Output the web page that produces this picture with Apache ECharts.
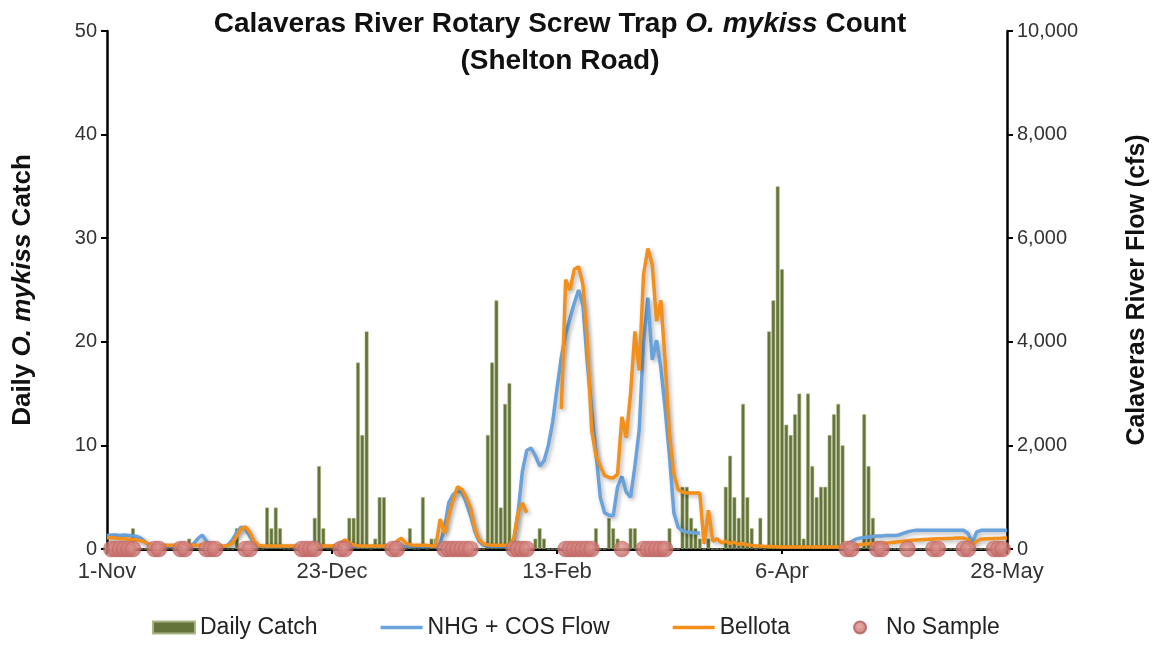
<!DOCTYPE html>
<html>
<head>
<meta charset="utf-8">
<script src="https://cdn.jsdelivr.net/npm/echarts@6/dist/echarts.min.js"></script>
<style>
  html, body { margin: 0; padding: 0; background: #fff; }
  #chart { width: 1158px; height: 645px; }
</style>
</head>
<body>
<div id="chart"></div>
<script>
// x axis is day number counted from 1-Nov (0) to 28-May (208)
const tickLabels = ['1-Nov', '23-Dec', '13-Feb', '6-Apr', '28-May'];

// daily O. mykiss catch, one value per day
const catchCounts = [
  0, 0, 0, 0, 0, 0, 2, 0, 0, 0,
  0, 0, 0, 0, 0, 0, 0, 0, 0, 1,
  0, 0, 0, 0, 0, 0, 0, 0, 0, 0,
  2, 0, 0, 0, 0, 0, 0, 4, 2, 4,
  2, 0, 0, 0, 0, 0, 0, 0, 3, 8,
  2, 0, 0, 0, 0, 0, 3, 3, 18, 11,
  21, 0, 1, 5, 5, 0, 0, 0, 0, 0,
  2, 0, 0, 5, 0, 1, 1, 0, 0, 0,
  0, 0, 0, 0, 0, 0, 0, 0, 11, 18,
  24, 4, 14, 16, 0, 0, 0, 0, 0, 1,
  2, 1, 0, 0, 0, 0, 0, 0, 0, 0,
  0, 0, 0, 2, 0, 0, 3, 2, 1, 0,
  0, 2, 2, 0, 0, 0, 0, 0, 0, 0,
  2, 0, 0, 6, 6, 3, 2, 1, 0, 1,
  0, 0, 0, 6, 9, 5, 3, 14, 5, 2,
  0, 3, 0, 21, 24, 35, 27, 12, 11, 13,
  15, 1, 15, 8, 5, 6, 6, 11, 13, 14,
  10, 0, 0, 0, 0, 13, 8, 3, 0, 0,
  0, 0, 0, 0, 0, 0, 0, 0, 0, 0,
  0, 0, 0, 0, 0, 0, 0, 0, 0, 0,
  0, 0, 0, 0, 0, 0, 0, 0, 0
];

// NHG + COS flow (cfs)
const nhgFlow = [
  260, 270, 270, 260, 270, 260, 250, 240, 200, 120,
  80, 60, 50, 50, 50, 50, 50, 50, 50, 60,
  100, 200, 270, 150, 80, 60, 50, 50, 80, 180,
  320, 420, 400, 250, 100, 60, 50, 50, 50, 50,
  50, 50, 50, 50, 50, 50, 50, 50, 50, 50,
  50, 50, 50, 50, 50, 60, 60, 50, 50, 50,
  50, 50, 50, 50, 50, 50, 50, 60, 60, 50,
  50, 50, 50, 50, 50, 50, 50, 100, 400, 900,
  1050, 1120, 1100, 900, 650, 350, 150, 80, 60, 50,
  50, 50, 50, 50, 150, 700, 1500, 1900, 1950, 1800,
  1600, 1700, 2000, 2450, 3100, 3700, 4150, 4450, 4750, 5000,
  4700, 3600, 2700, 1850, 1000, 700, 650, 640, 1200, 1400,
  1100, 1000, 1600, 2300, 4000, 4850, 3650, 4030, 3500, 2700,
  1800, 700, 420, 350, 330, 320, 310, 310, null, null,
  null, null, null, null, null, null, null, null, null, null,
  null, null, null, null, null, null, null, null, null, null,
  null, null, null, null, null, null, null, null, null, null,
  null, 100, 140, 190, 210, 220, 230, 240, 250, 250,
  260, 260, 260, 270, 300, 330, 350, 360, 360, 360,
  360, 360, 360, 360, 360, 360, 360, 360, 360, 300,
  120, 330, 360, 360, 360, 360, 360, 360, 360
];

// Bellota flow (cfs)
const bellotaFlow = [
  210, 220, 210, 200, 200, 190, 180, 170, 160, 120,
  80, 70, 70, 70, 70, 70, 70, 70, 70, 70,
  70, 70, 80, 80, 70, 60, 60, 60, 70, 120,
  250, 380, 430, 320, 150, 70, 60, 60, 60, 60,
  60, 60, 60, 60, 60, 60, 60, 60, 60, 60,
  60, 60, 60, 70, 120, 175, 120, 80, 60, 60,
  60, 60, 60, 60, 60, 60, 80, 150, 210, 120,
  80, 70, 70, 70, 70, 60, 60, 580, 300, 650,
  950, 1200, 1150, 1000, 800, 400, 180, 100, 80, 70,
  70, 70, 70, 80, 200, 700, 890, 700, null, null,
  null, null, null, null, null, 2700, 5200, 5000, 5400, 5450,
  5100, 4000, 2300, 1800, 1600, 1420, 1380, 1370, 1450, 2550,
  2150, 3000, 4200, 3450, 5300, 5800, 5500, 4400, 4800, 3600,
  2200, 1450, 1150, 1100, 1080, 1080, 1080, 1080, 100, 750,
  150, 200, 120, 150, 110, 130, 90, 100, 80, 70,
  60, 60, 50, 50, 45, 45, 40, 40, 40, 40,
  40, 40, 40, 40, 40, 40, 40, 40, 40, 40,
  40, 50, 60, 70, 80, 90, 100, 100, 105, 110,
  110, 120, 130, 140, 150, 160, 170, 175, 180, 185,
  190, 195, 200, 200, 205, 205, 210, 210, 210, 180,
  80, 150, 190, 200, 200, 205, 205, 210, 210
];

// days with no trap sample
const noSampleDays = [
  1, 2, 3, 4, 5, 6, 11, 12, 17, 18, 23, 24, 25, 32, 33,
  45, 46, 47, 48, 54, 55, 66, 67, 78, 79, 80, 81, 82, 83, 84,
  94, 95, 96, 97, 106, 107, 108, 109, 110, 111, 112, 119,
  124, 125, 126, 127, 128, 129, 171, 172, 178, 179, 185,
  191, 192, 198, 199, 205, 206, 207
];

const FONT = "'Liberation Sans', Arial, sans-serif";

var myChart = echarts.init(document.getElementById('chart'));

const pairs = (arr) => arr.map((v, i) => [i, v]);

// flat bar used as the legend icon of the two flow lines
const lineIcon = 'path://M0,0 L42,0 L42,3.5 L0,3.5 Z';

option = {
  animation: false,
  textStyle: { fontFamily: FONT },
  title: {
    left: 555,
    textAlign: 'center',
    top: 5,
    itemGap: 9,
    text: '{n|Calaveras River Rotary Screw Trap }{i|O. mykiss}{n| Count}',
    textStyle: {
      rich: {
        n: { fontFamily: FONT, fontSize: 28, fontWeight: 'bold', color: '#111' },
        i: { fontFamily: FONT, fontSize: 28, fontWeight: 'bold', fontStyle: 'italic', color: '#111' }
      }
    },
    subtext: '(Shelton Road)',
    subtextStyle: { fontFamily: FONT, fontSize: 28, fontWeight: 'bold', color: '#111' }
  },
  grid: {
    left: 107,
    right: 150,
    top: 31,
    bottom: 96
  },
  legend: {
    bottom: 1,
    left: 147,
    itemGap: 63,
    itemWidth: 42,
    itemHeight: 12,
    textStyle: { fontFamily: FONT, fontSize: 23, color: '#222' },
    data: [
      { name: 'Daily Catch', icon: 'rect' },
      { name: 'NHG + COS Flow', icon: lineIcon },
      { name: 'Bellota', icon: lineIcon },
      { name: 'No Sample', icon: 'circle' }
    ]
  },
  xAxis: {
    type: 'value',
    min: 0,
    max: 208,
    interval: 52,
    splitLine: { show: false },
    axisLine: { show: true, onZero: false, lineStyle: { color: '#000', width: 3 } },
    axisTick: { show: true, length: 5, lineStyle: { color: '#000', width: 2 } },
    axisLabel: {
      color: '#333',
      fontFamily: FONT,
      fontSize: 22,
      margin: 12,
      formatter: function (value) {
        return tickLabels[Math.round(value / 52)];
      }
    }
  },
  yAxis: [
    {
      type: 'value',
      min: 0,
      max: 50,
      interval: 10,
      position: 'left',
      name: '{n|Daily }{i|O. mykiss}{n| Catch}',
      nameLocation: 'middle',
      nameGap: 71,
      nameTextStyle: {
        rich: {
          n: { fontFamily: FONT, fontSize: 26, fontWeight: 'bold', color: '#111' },
          i: { fontFamily: FONT, fontSize: 26, fontWeight: 'bold', fontStyle: 'italic', color: '#111' }
        }
      },
      splitLine: { show: false },
      axisLine: { show: true, lineStyle: { color: '#000', width: 2.5 } },
      axisTick: { show: true, length: 6, lineStyle: { color: '#000', width: 2 } },
      axisLabel: { color: '#333', fontFamily: FONT, fontSize: 20, margin: 10 }
    },
    {
      type: 'value',
      min: 0,
      max: 10000,
      interval: 2000,
      position: 'right',
      name: 'Calaveras River Flow (cfs)',
      nameLocation: 'middle',
      nameGap: 118,
      nameTextStyle: { fontFamily: FONT, fontSize: 25, fontWeight: 'bold', color: '#111' },
      splitLine: { show: false },
      axisLine: { show: true, lineStyle: { color: '#000', width: 2.5 } },
      axisTick: { show: true, length: 6, lineStyle: { color: '#000', width: 2 } },
      axisLabel: {
        color: '#333',
        fontFamily: FONT,
        fontSize: 20,
        margin: 10,
        formatter: function (value) {
          return value.toLocaleString('en-US');
        }
      }
    }
  ],
  series: [
    {
      name: 'Daily Catch',
      type: 'bar',
      yAxisIndex: 0,
      barWidth: 3.8,
      data: pairs(catchCounts),
      itemStyle: {
        color: '#637339',
        borderColor: '#a9b585',
        borderWidth: 0.6
      }
    },
    {
      name: 'NHG + COS Flow',
      type: 'line',
      yAxisIndex: 1,
      symbol: 'none',
      connectNulls: false,
      data: pairs(nhgFlow),
      itemStyle: { color: '#6aa3dc' },
      lineStyle: {
        color: '#6aa3dc',
        width: 3.5,
        shadowColor: 'rgba(0, 0, 0, 0.3)',
        shadowBlur: 4,
        shadowOffsetX: 2,
        shadowOffsetY: 2
      }
    },
    {
      name: 'Bellota',
      type: 'line',
      yAxisIndex: 1,
      symbol: 'none',
      connectNulls: false,
      data: pairs(bellotaFlow),
      itemStyle: { color: '#f3901c' },
      lineStyle: {
        color: '#f3901c',
        width: 3.5,
        shadowColor: 'rgba(0, 0, 0, 0.3)',
        shadowBlur: 4,
        shadowOffsetX: 2,
        shadowOffsetY: 2
      }
    },
    {
      name: 'No Sample',
      type: 'scatter',
      yAxisIndex: 0,
      symbol: 'circle',
      symbolSize: 16,
      clip: false,
      z: 5,
      data: noSampleDays.map(d => [d, 0]),
      itemStyle: {
        color: new echarts.graphic.RadialGradient(0.45, 0.4, 0.6, [
          { offset: 0, color: '#e19894' },
          { offset: 1, color: '#bf625f' }
        ]),
        borderColor: '#b35c5a',
        borderWidth: 0.5
      }
    }
  ]
};

myChart.setOption(option);
</script>
</body>
</html>
